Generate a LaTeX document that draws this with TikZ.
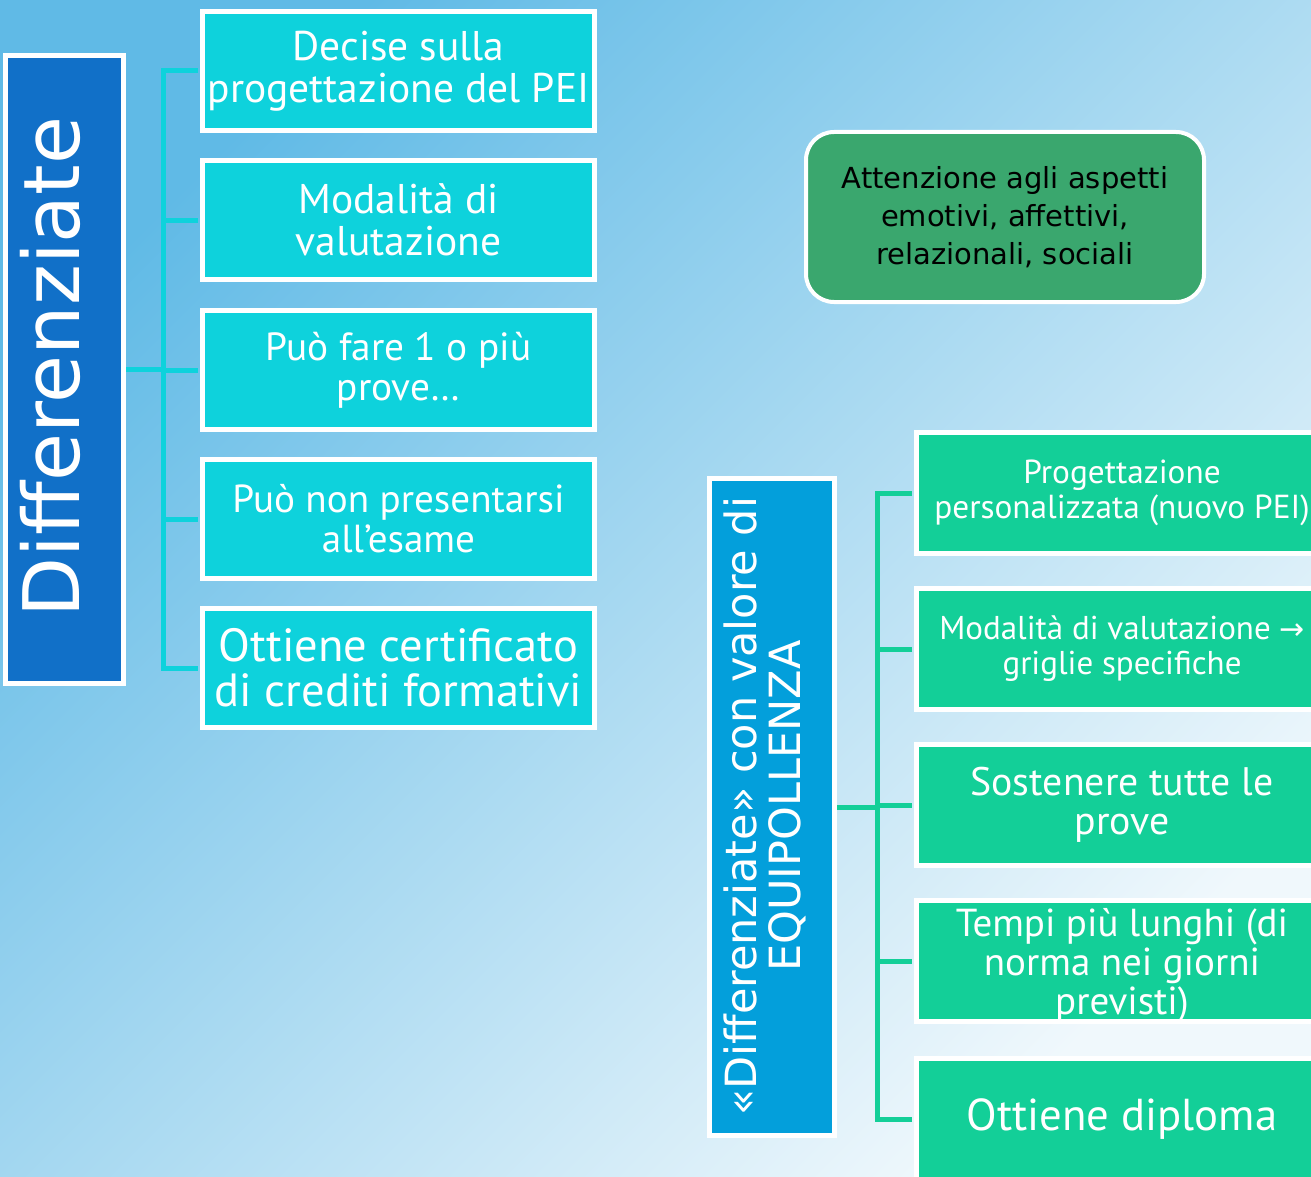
\documentclass[tikz,border=0pt]{standalone}
\usepackage{fontspec}
\setmainfont{PT Sans}
\newfontfamily\boxfont{PT Sans}
\newfontfamily\vfont{DejaVu Sans}
\newfontfamily\gfont{DejaVu Sans}
\newfontfamily\symfont{DejaVu Sans}
\definecolor{bgA}{RGB}{96,186,230}
\definecolor{bgB}{RGB}{240,248,252}
\definecolor{lmain}{RGB}{17,112,200}
\definecolor{lchild}{RGB}{14,210,220}
\definecolor{rmain}{RGB}{3,159,219}
\definecolor{rchild}{RGB}{19,207,152}
\definecolor{gbox}{RGB}{58,167,110}
\tikzset{
  mainbox/.style={draw=white, line width=5pt, inner sep=0pt, text=white, align=center},
  lchildbox/.style={draw=white, line width=5pt, fill=lchild, minimum width=392pt, minimum height=119pt, inner sep=0pt, text=white, align=center},
  rchildbox/.style={draw=white, line width=5pt, fill=rchild, minimum width=411pt, minimum height=121pt, inner sep=0pt, text=white, align=center},
  lconn/.style={draw=lchild, line width=5pt, shorten >=2.5pt},
  rconn/.style={draw=rchild, line width=5pt, shorten >=2.5pt},
}
\begin{document}
\begin{tikzpicture}[x=1pt,y=-1pt]
\useasboundingbox (0,0) rectangle (1311,1177);
\begin{scope}
\clip (0,0) rectangle (1311,1177);
\shade[top color=bgA, bottom color=bgB, shading angle=45] (0,0) rectangle (1311,1177);

% left main
\node[mainbox, fill=lmain, minimum width=118pt, minimum height=628pt] (L) at (64.5,369.5) {};
\node[rotate=90, anchor=base, text=white, font=\vfont\fontsize{78}{82}\selectfont] (Ltext) at (79,367) {Differenziate};

% left children
\node[lchildbox, font=\boxfont\fontsize{41.5}{42}\selectfont] (l1) at (398.5,71) {Decise sulla\\progettazione del PEI};
\node[lchildbox, font=\boxfont\fontsize{41.5}{42}\selectfont] (l2) at (398.5,220) {Modalità di\\valutazione};
\node[lchildbox, font=\boxfont\fontsize{39.3}{40}\selectfont] (l3) at (398.5,370) {Può fare 1 o più\\prove…};
\node[lchildbox, font=\boxfont\fontsize{39.1}{40}\selectfont] (l4) at (398.5,519) {Può non presentarsi\\all’esame};
\node[lchildbox, font=\boxfont\fontsize{46.5}{45}\selectfont] (l5) at (398.5,668) {Ottiene certificato\\di crediti formativi};

\coordinate (lbus) at (163,370);
\draw[lconn, shorten >=0pt] (L.east) -- (L.east -| lbus);
\draw[lconn] (l1.west -| lbus) -- (l1.west);
\draw[lconn] (l2.west -| lbus) -- (l2.west);
\draw[lconn] (l3.west -| lbus) -- (l3.west);
\draw[lconn] (l4.west -| lbus) -- (l4.west);
\draw[lconn] (l5.west -| lbus) -- (l5.west);
\draw[lconn, shorten >=0pt, line cap=rect] (l1.west -| lbus) -- (l5.west -| lbus);

% green box
\node[draw=white, line width=4pt, fill=gbox, rounded corners=28pt, minimum width=398pt, minimum height=170pt, align=center, text=black, font=\gfont\fontsize{29}{38}\selectfont] (G) at (1005,217) {Attenzione agli aspetti\\emotivi, affettivi,\\relazionali, sociali};

% right main
\node[mainbox, fill=rmain, minimum width=125pt, minimum height=657pt] (R) at (772,807) {};
\node[rotate=90, text=white, align=center, font=\vfont\fontsize{43}{44}\selectfont] (Rtext) at (765,806) {«Differenziate» con valore di\\EQUIPOLLENZA};

% right children
\node[rchildbox, font=\boxfont\fontsize{33.3}{35}\selectfont] (r1) at (1122,493) {Progettazione\\personalizzata (nuovo PEI)};
\node[rchildbox, font=\boxfont\fontsize{33}{35}\selectfont] (r2) at (1122,649) {Modalità di valutazione {\symfont\fontsize{30}{35}\selectfont →}\\griglie specifiche};
\node[rchildbox, font=\boxfont\fontsize{39.8}{39}\selectfont] (r3) at (1122,805) {Sostenere tutte le\\prove};
\node[rchildbox, label={[yshift=-5pt, text=white, align=center, inner sep=0pt, font=\boxfont\fontsize{39}{39}\selectfont]center:Tempi più lunghi (di\\norma nei giorni\\previsti)}] (r4) at (1122,961) {};
\node[rchildbox, font=\boxfont\fontsize{44.7}{46}\selectfont] (r5) at (1122,1119) {Ottiene diploma};

\coordinate (rbus) at (877,805);
\draw[rconn, shorten >=0pt] (R.east) -- (R.east -| rbus);
\draw[rconn] (r1.west -| rbus) -- (r1.west);
\draw[rconn] (r2.west -| rbus) -- (r2.west);
\draw[rconn] (r3.west -| rbus) -- (r3.west);
\draw[rconn] (r4.west -| rbus) -- (r4.west);
\draw[rconn] (r5.west -| rbus) -- (r5.west);
\draw[rconn, shorten >=0pt, line cap=rect] (r1.west -| rbus) -- (r5.west -| rbus);
\end{scope}
\end{tikzpicture}
\end{document}
